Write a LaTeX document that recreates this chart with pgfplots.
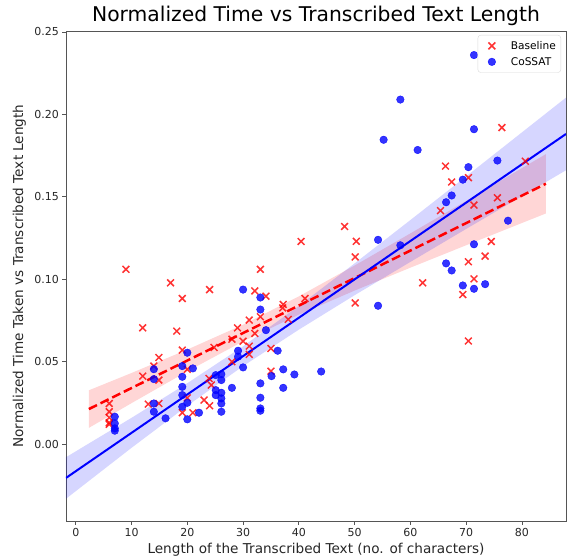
\documentclass[border=0pt]{standalone}
\usepackage{fontspec}
\setmainfont{DejaVu Sans}
\usepackage{pgfplots}
\pgfplotsset{compat=1.18}
\definecolor{spine}{HTML}{555555}
\definecolor{txt}{HTML}{262626}
\begin{document}
\begin{tikzpicture}
\path (0,0) rectangle (567pt,559pt);
\begin{axis}[
  at={(66pt,38pt)}, anchor=south west,
  width=500pt, height=490pt, scale only axis,
  xmin=-1.75, xmax=87.9, ymin=-0.0467, ymax=0.2506,
  xtick={0,10,20,30,40,50,60,70,80},
  ytick={0,0.05,0.1,0.15,0.2,0.25},
  scaled y ticks=false,
  yticklabel style={/pgf/number format/.cd, fixed, fixed zerofill, precision=2},
  /pgf/number format/assume math mode=true,
  tick align=outside, tick pos=left, major tick length=3.5pt,
  tick style={spine, line width=0.8pt},
  axis line style={spine, line width=0.8pt},
  tick label style={font=\fontsize{11}{13}\selectfont, color=txt},
  every axis title shift=0pt,
  title={Normalized Time vs Transcribed Text Length},
  title style={at={(axis description cs:0.5,1.0186)}, anchor=base, font=\fontsize{20.3}{24}\selectfont, color=black},
  xlabel={Length of the Transcribed Text (no. of characters)},
  ylabel={Normalized Time Taken vs Transcribed Text Length},
  every axis x label/.style={at={(axis description cs:0.5,-0.0653)}, anchor=base, font=\fontsize{13.6}{15}\selectfont, color=txt},
  every axis y label/.style={at={(axis description cs:-0.086,0.5)}, rotate=90, anchor=base, font=\fontsize{13.6}{15}\selectfont, color=txt},
  legend style={at={(axis description cs:0.99,0.992)}, anchor=north east, draw=gray!30, rounded corners=3pt, font=\fontsize{10.6}{13}\selectfont, row sep=2.5pt, inner xsep=3pt, inner ysep=4pt, text=black},
  legend image code/.code={\path[draw=none, fill=none] (-11pt,0pt) -- (17pt,0pt); \draw[#1] plot coordinates {(0pt,0pt)};},
  legend cell align=left,
]
% Baseline scatter
\addplot[only marks, mark=x, mark size=4.8pt, red, opacity=0.8, line width=1.5pt] coordinates {
(9.0,0.106)(33.1,0.106)(17.0,0.0978)(24.0,0.0937)(19.1,0.0883)(32.1,0.0929)(34.1,0.0897)
(12.0,0.0705)(18.1,0.0685)(37.2,0.0847)(37.1,0.0826)(41.1,0.0883)(38.1,0.0756)(33.1,0.0772)
(31.1,0.0752)(29.0,0.0705)(32.1,0.0671)(28.0,0.0636)(30.0,0.0624)(31.1,0.0594)(31.1,0.0544)
(35.0,0.058)(24.8,0.0586)(19.1,0.057)(14.9,0.0525)(14.0,0.0473)(12.0,0.0412)(14.9,0.0388)
(20.0,0.0453)(28.0,0.0499)(35.0,0.0442)(23.9,0.0398)(24.3,0.0358)(23.0,0.0267)(24.0,0.0232)
(13.0,0.0242)(14.9,0.0246)(19.1,0.019)(21.0,0.019)(20.0,0.028)(6.0,0.0246)(6.0,0.0196)
(6.0,0.016)(6.0,0.013)(6.0,0.012)(50.1,0.1135)(50.1,0.0856)(76.4,0.192)(80.6,0.1716)
(66.3,0.1686)(67.4,0.159)(70.4,0.1616)(75.6,0.1494)(71.4,0.145)(65.4,0.1416)(48.2,0.132)
(50.3,0.123)(40.4,0.1229)(74.5,0.1229)(73.4,0.114)(70.4,0.1106)(71.4,0.1002)(62.2,0.0978)
(69.4,0.0907)(70.4,0.0625)
};
\addlegendentry{Baseline}
% Baseline band
\addplot[forget plot, draw=none, fill=red, fill opacity=0.16] coordinates {
(2.35,0.0326)(10,0.0431)(20,0.0573)(30,0.0724)(40,0.0896)(50,0.1083)(60,0.1278)(70,0.1475)(80,0.1674)(84.3,0.1759)
(84.3,0.1399)(80,0.1341)(70,0.1206)(60,0.1070)(50,0.0931)(40,0.0785)(30,0.0623)(20,0.0441)(10,0.0248)(2.35,0.0098)
} -- cycle;
% CoSSAT scatter
\addplot[only marks, mark=*, mark size=3.8pt, blue, opacity=0.8, mark options={draw=none, fill=blue}] coordinates {
(30.0,0.0937)(33.1,0.0889)(33.1,0.0816)(34.1,0.0691)(36.2,0.0566)(29.1,0.0566)(29.1,0.053)
(30.0,0.0465)(37.2,0.0453)(39.2,0.0422)(44.0,0.0440)(35.1,0.0412)(37.2,0.0341)(33.1,0.0368)
(33.1,0.0281)(33.1,0.0216)(33.1,0.0202)(28.0,0.0341)(26.1,0.0424)(26.1,0.0388)(26.1,0.0311)
(26.1,0.0277)(26.1,0.0246)(26.1,0.0196)(25.1,0.0418)(25.1,0.0327)(25.1,0.0297)(20.0,0.0554)
(19.1,0.0473)(21.0,0.0459)(19.1,0.0408)(19.1,0.0347)(19.1,0.0297)(19.1,0.0226)(20.0,0.025)
(20.0,0.015)(22.1,0.019)(14.0,0.0454)(14.0,0.0394)(14.0,0.0246)(14.0,0.0196)(16.1,0.0156)
(7.0,0.0166)(7.0,0.0125)(7.0,0.0095)(7.0,0.0081)(71.4,0.236)(58.2,0.209)(71.4,0.191)
(55.2,0.1846)(61.3,0.1784)(75.6,0.172)(70.4,0.168)(69.4,0.1604)(67.4,0.1508)(66.4,0.1467)
(77.5,0.1355)(54.2,0.1239)(58.2,0.1206)(71.4,0.1212)(66.4,0.1096)(67.4,0.1053)(69.4,0.0962)
(71.4,0.0942)(73.4,0.097)(54.2,0.0839)
};
\addlegendentry{CoSSAT}
% CoSSAT band
\addplot[forget plot, draw=none, fill=blue, fill opacity=0.16] coordinates {
(-1.75,-0.0080)(10,0.0159)(20,0.0369)(30,0.0593)(40,0.0838)(50,0.1096)(60,0.1359)(70,0.1624)(80,0.1891)(87.9,0.2102)
(87.9,0.1661)(80,0.1504)(70,0.1305)(60,0.1105)(50,0.0903)(40,0.0694)(30,0.0473)(20,0.0232)(10,-0.0023)(-1.75,-0.0332)
} -- cycle;
% regression lines
\addplot[forget plot, red, line width=2.5pt, dash pattern=on 9pt off 4pt] coordinates {
(2.35,0.02122)(84.3,0.15791)};
\addplot[forget plot, blue, line width=2pt] coordinates {
(-1.75,-0.02057)(87.9,0.18813)};
\end{axis}
\pgfresetboundingbox
\path (0,0) rectangle (567pt,559pt);
\end{tikzpicture}
\end{document}
